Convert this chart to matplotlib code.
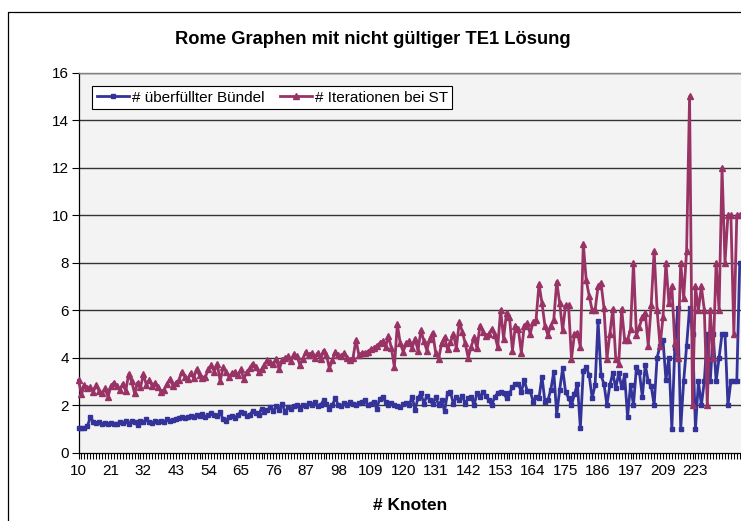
import matplotlib
matplotlib.use("Agg")
import matplotlib.pyplot as plt
from matplotlib.lines import Line2D
import numpy as np

plt.rcParams['font.family'] = ['Liberation Sans', 'DejaVu Sans']

# Node counts (category axis)
knoten = (list(range(10, 198))
          + [198, 199, 200, 201, 202, 203, 204, 205, 206, 208, 209]
          + [210, 211, 212, 213, 215, 216, 217, 219, 220, 222, 223]
          + [224, 225, 226, 227, 228, 230, 231, 232, 234, 235, 236, 238, 240, 241, 243])

# number of overfull bundles
ueberfuellt = [
    1.05, 1.05, 1.05, 1.1, 1.5, 1.3, 1.25, 1.28, 1.22, 1.25,
    1.2, 1.25, 1.2, 1.22, 1.28, 1.25, 1.32, 1.2, 1.35, 1.3,
    1.15, 1.35, 1.28, 1.4, 1.3, 1.25, 1.35, 1.3, 1.35, 1.28,
    1.4, 1.35, 1.38, 1.42, 1.45, 1.5, 1.45,
    1.5, 1.55, 1.48, 1.6, 1.55, 1.62, 1.5, 1.58, 1.65, 1.6,
    1.55, 1.7, 1.4, 1.35, 1.5, 1.55, 1.45, 1.6, 1.7, 1.65,
    1.55, 1.6, 1.75, 1.65, 1.6, 1.85, 1.7, 1.8, 1.9, 1.75,
    1.95, 1.8, 2.05, 1.7, 1.9, 1.85, 1.95,
    2.0, 1.85, 2.0, 1.95, 2.1, 2.0, 2.15, 1.95, 2.0, 2.2,
    2.05, 1.85, 2.0, 2.3, 2.0, 1.95, 2.1, 2.0, 2.15, 2.05,
    2.0, 2.1, 2.15, 2.2, 2.0, 2.05, 2.15, 1.85, 2.25, 2.35,
    2.15, 2.0, 2.1, 2.0, 1.95, 1.9, 2.05, 2.1,
    2.0, 2.35, 1.8, 2.3, 2.5, 2.05, 2.4, 2.2, 2.05, 2.35,
    2.0, 2.2, 1.75, 2.5, 2.55, 2.05, 2.35, 2.2, 2.4, 2.05,
    2.3, 2.35, 2.0, 2.5, 2.35, 2.55, 2.4, 2.2, 2.0, 2.35,
    2.5, 2.55, 2.5, 2.3, 2.5, 2.75, 2.9,
    2.9, 2.55, 3.05, 2.6, 2.6, 2.15, 2.35, 2.3, 3.2, 2.15,
    2.2, 2.65, 3.4, 1.6, 2.65, 3.55, 2.55, 2.3, 2.0, 2.45,
    2.9, 1.05, 3.45, 3.6, 3.25, 2.3, 2.85, 5.55, 3.25, 2.9,
    2.0, 2.85, 3.35, 2.7, 3.35, 2.75, 3.25,
    1.5, 2.85, 2.0, 3.6, 3.4, 2.35, 3.7, 3.0, 2.8, 2.0,
    4.0, 4.5, 4.75, 3.05, 4.0, 1.0, 4.4, 6.1, 1.0, 3.0,
    4.5, 6.1, 5.0, 1.0, 3.0, 2.0, 3.0, 5.0, 3.0, 5.0,
    3.0, 4.0, 5.0, 5.0, 2.0, 3.0, 3.0, 3.0, 8.0,
]

# number of iterations for ST
iterationen = [
    3.05, 2.45, 2.85, 2.7, 2.75, 2.55, 2.85, 2.6, 2.5, 2.7,
    2.35, 2.8, 2.95, 2.8, 2.65, 2.9, 2.6, 3.3, 3.0, 2.5,
    2.95, 2.75, 3.3, 2.85, 3.05, 2.8, 2.95, 2.75, 2.55, 2.65,
    2.9, 3.1, 2.8, 2.95, 3.05, 3.4, 3.2,
    3.1, 3.35, 3.15, 3.5, 3.25, 3.15, 3.2, 3.5, 3.7, 3.4,
    3.75, 3.0, 3.6, 3.4, 3.2, 3.35, 3.4, 3.25, 3.5, 3.1,
    3.4, 3.55, 3.75, 3.6, 3.4, 3.5, 3.7, 3.9, 3.8, 3.75,
    3.95, 3.5, 3.9, 4.0, 4.05, 3.85, 4.15,
    4.05, 3.7, 3.95, 4.25, 4.1, 4.2, 4.0, 4.2, 3.95, 4.3,
    4.1, 3.55, 3.9, 4.25, 4.1, 4.05, 4.2, 4.0, 3.9, 4.0,
    4.75, 4.1, 4.2, 4.2, 4.25, 4.35, 4.4, 4.5, 4.6, 4.7,
    4.45, 4.9, 4.4, 3.6, 5.4, 4.6, 4.25, 4.6,
    4.7, 4.4, 4.8, 4.3, 5.15, 4.7, 4.3, 4.8, 5.05, 4.2,
    3.95, 4.6, 4.85, 4.35, 4.65, 5.0, 4.4, 5.5, 5.1, 4.6,
    4.0, 4.45, 4.85, 4.4, 5.35, 5.1, 4.9, 5.0, 5.2, 4.95,
    4.45, 6.0, 4.8, 5.9, 5.7, 4.3, 5.35,
    5.2, 4.2, 5.35, 5.45, 5.0, 5.5, 5.6, 7.1, 6.3, 5.35,
    4.95, 5.35, 5.6, 7.2, 6.3, 5.15, 6.2, 6.2, 3.95, 5.0,
    5.05, 4.45, 8.8, 7.25, 6.6, 6.0, 6.0, 7.0, 7.15, 6.1,
    3.95, 5.0, 6.05, 3.95, 3.75, 6.05, 4.75,
    4.75, 5.2, 8.0, 4.95, 5.3, 5.7, 5.9, 4.5, 6.2, 8.5,
    6.0, 4.5, 5.7, 8.0, 6.3, 7.0, 4.6, 4.0, 8.0, 6.5,
    8.5, 15.0, 2.0, 7.0, 6.0, 7.0, 6.0, 2.0, 6.0, 4.0,
    8.0, 6.0, 12.0, 8.0, 10.0, 10.0, 5.0, 10.0, 10.0,
]

serie_labels = ['# überfüllter Bündel', '# Iterationen bei ST']
y_ticks = [0, 2, 4, 6, 8, 10, 12, 14, 16]
label_step = 11
last_label = 223

W, H = 741, 521
fig = plt.figure(figsize=(W / 100, H / 100), dpi=100)
fig.patch.set_facecolor('white')

# plot area (extends past the right edge of the canvas)
x0, x1, ytop, ybot = 78.5, 745.0, 72.7, 452.6
ax = fig.add_axes([x0 / W, (H - ybot) / H, (x1 - x0) / W, (ybot - ytop) / H])
ax.set_facecolor('#f3f3f3')

pos = np.arange(len(knoten))
ax.plot(pos[:len(ueberfuellt)], ueberfuellt, color='#333399', lw=2.0,
        marker='s', ms=3.0, mec='#333399', mfc='#333399',
        label=serie_labels[0], clip_on=False, zorder=3)
ax.plot(pos[:len(iterationen)], iterationen, color='#993366', lw=2.0,
        marker='^', ms=4.2, mec='#993366', mfc='#993366',
        label=serie_labels[1], clip_on=False, zorder=4)

ax.set_ylim(0, 16)
ax.set_xlim(0, (x1 - x0) / 2.952)
ax.set_yticks(y_ticks)
ax.set_yticklabels([str(v) for v in y_ticks])
for v in y_ticks[1:]:
    ax.axhline(v, color='#333333', lw=1.0, zorder=1)

ax.set_xticks(pos)
last_idx = knoten.index(last_label)
ax.set_xticklabels([str(k) if (i % label_step == 0 and i <= last_idx) else ''
                    for i, k in enumerate(knoten)])

ax.tick_params(axis='x', length=4, width=0.8, direction='out', pad=4,
               labelsize=11, colors='black')
ax.tick_params(axis='y', length=5, width=0.8, direction='out', pad=2,
               labelsize=11, colors='black')
for s in ['left', 'bottom']:
    ax.spines[s].set_color('black')
    ax.spines[s].set_linewidth(0.9)
ax.spines['top'].set_color('#808080')
ax.spines['top'].set_linewidth(1.0)
ax.spines['right'].set_visible(False)

leg = ax.legend(loc='upper left', bbox_to_anchor=(92 / W, 1 - 86 / H),
                bbox_transform=fig.transFigure, ncol=2, fontsize=11,
                frameon=True, fancybox=False, framealpha=1, edgecolor='black',
                handlelength=2.1, handletextpad=0.2, columnspacing=1.0,
                borderpad=0.3, borderaxespad=0)
leg.get_frame().set_linewidth(0.8)

fig.text(373 / W, 1 - 40 / H, 'Rome Graphen mit nicht gültiger TE1 Lösung',
         ha='center', va='center', fontsize=13.2, fontweight='bold')
fig.text(410 / W, 1 - 505 / H, '# Knoten', ha='center', va='center',
         fontsize=12.5, fontweight='bold')

# outer chart frame
fig.add_artist(Line2D([7.5 / W, 7.5 / W, 1.0], [0, 1 - 11.5 / H, 1 - 11.5 / H],
                      transform=fig.transFigure, color='black', lw=0.9))

fig.savefig('out.png', dpi=100)
